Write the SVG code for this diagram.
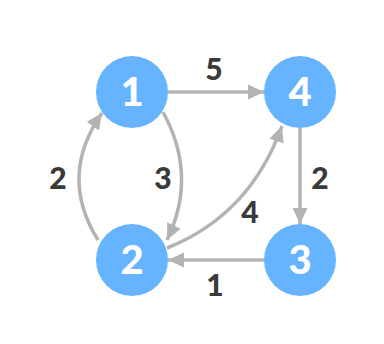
<svg xmlns="http://www.w3.org/2000/svg" width="384" height="344" viewBox="0 0 384 344">
<defs>
<marker id="ah" markerUnits="userSpaceOnUse" markerWidth="17" markerHeight="17" viewBox="0 0 17 17" refX="16" refY="8.5" orient="auto">
<path d="M0,1 L16,8.5 L0,16 Z" fill="#b3b3b3"/>
</marker>
</defs>
<style>
.e{fill:none;stroke:#b3b3b3;stroke-width:3.5;marker-end:url(#ah)}
.n{fill:#66b3ff}
.nt{font-family:Lato,"Liberation Sans",sans-serif;font-weight:900;font-size:40px;fill:#fff;text-anchor:middle}
.l{font-family:Lato,"Liberation Sans",sans-serif;font-weight:900;font-size:30px;fill:#3a3a3a;text-anchor:middle}
</style>
<rect width="384" height="344" fill="#fff"/>
<g id="connectors">
<path class="e" d="M168,92 L264,92"/>
<path class="e" d="M300,128 L300,224"/>
<path class="e" d="M264,260 L168,260"/>
<path class="e" d="M163,112 Q198,176 167,240"/>
<path class="e" d="M98,240 Q58,176 102,113"/>
<path class="e" d="M167,248 Q250,215 282,126"/>
</g>
<g id="labels">
<text class="l" x="214" y="80">5</text>
<text class="l" x="58" y="189">2</text>
<text class="l" x="163" y="189">3</text>
<text class="l" x="320" y="189">2</text>
<text class="l" x="250" y="223">4</text>
<text class="l" x="215" y="296">1</text>
</g>
<g id="node1"><circle class="n" cx="132" cy="92" r="36"/><text class="nt" x="132" y="106">1</text></g>
<g id="node4"><circle class="n" cx="300" cy="92" r="36"/><text class="nt" x="300" y="106">4</text></g>
<g id="node2"><circle class="n" cx="132" cy="260" r="36"/><text class="nt" x="132" y="274">2</text></g>
<g id="node3"><circle class="n" cx="300" cy="260" r="36"/><text class="nt" x="300" y="274">3</text></g>
</svg>
